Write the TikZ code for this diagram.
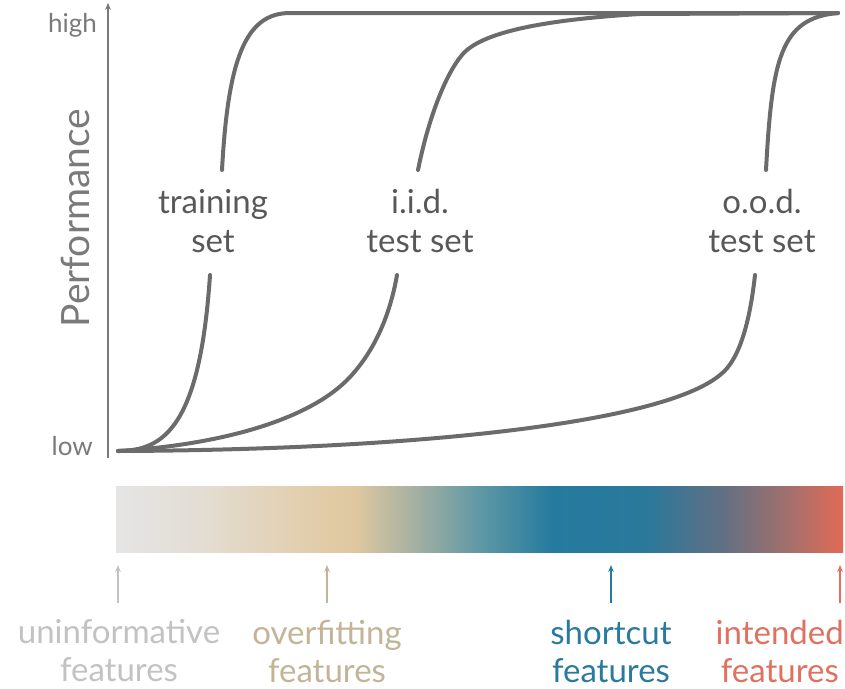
\documentclass[tikz,border=0pt]{standalone}
\usepackage{fontspec}
\setmainfont{Lato}
\usetikzlibrary{arrows.meta}
\definecolor{curvegray}{HTML}{6B6B6B}
\definecolor{labgray}{HTML}{585858}
\definecolor{axgray}{HTML}{7A7A7A}
\definecolor{cA}{HTML}{E5E5E5}
\definecolor{cB}{HTML}{E3DDD3}
\definecolor{cC}{HTML}{E1CBA5}
\definecolor{cD}{HTML}{DFC8A0}
\definecolor{cE}{HTML}{A0AEA2}
\definecolor{cF}{HTML}{5F98A5}
\definecolor{cG}{HTML}{257B9E}
\definecolor{cH}{HTML}{2A799B}
\definecolor{cI}{HTML}{5F7084}
\definecolor{cJ}{HTML}{A4706C}
\definecolor{cK}{HTML}{E26A55}
\definecolor{uninfc}{HTML}{C2C2C2}
\definecolor{overc}{HTML}{C4B497}
\definecolor{shortc}{HTML}{2A7AA0}
\definecolor{intc}{HTML}{E07060}
\pgfdeclarehorizontalshading{featbar}{100bp}{color(0bp)=(cA); color(25bp)=(cA); color(30.8bp)=(cB); color(39.7bp)=(cC); color(41.4bp)=(cD); color(45.9bp)=(cE); color(50bp)=(cF); color(55bp)=(cG); color(61.5bp)=(cH); color(66.5bp)=(cI); color(71.35bp)=(cJ); color(75bp)=(cK); color(100bp)=(cK)}
\tikzset{
  curve/.style={draw=curvegray, line width=4pt, line cap=round},
  axisline/.style={draw=axgray, line width=1.3pt, -{Stealth[length=7pt,width=6pt]}},
  featarrow/.style={line width=1.5pt, -{Stealth[length=7pt,width=5.5pt]}},
  curvelabel/.style={text=labgray, align=center, font=\fontsize{33}{39}\selectfont, inner sep=0pt},
  featlabel/.style={align=center, font=\fontsize{33}{38}\selectfont, inner sep=0pt},
  ticklabel/.style={text=axgray, font=\fontsize{26}{30}\selectfont, inner sep=0pt}
}
\begin{document}
\begin{tikzpicture}[x=1pt,y=-1pt]
\useasboundingbox (0,0) rectangle (845,688);
% axis
\coordinate (axbot) at (108,458);
\coordinate (axtop) at (108,3);
\draw[axisline] (axbot) -- (axtop);
\node[ticklabel, anchor=east] (high) at (97,25) {high};
\node[ticklabel, anchor=east] (low) at (93,446) {low};
\node[text=axgray, rotate=90, font=\fontsize{39}{42}\selectfont, inner sep=0pt] (perf) at (75,218) {Performance};
% labels
\node[curvelabel] (trainlbl) at (213,221) {training\\set};
\node[curvelabel] (iidlbl) at (420,221) {i.i.d.\\test set};
\node[curvelabel] (oodlbl) at (762,221) {o.o.d.\\test set};
% coordinates
\coordinate (origin) at (118,451);
\coordinate (topend) at (838,13);
\coordinate (trlo) at (210,275);
\coordinate (trhi) at (222,170);
\coordinate (iidlo) at (397,275);
\coordinate (iidhi) at (418,170);
\coordinate (oodlo) at (755,275);
\coordinate (oodhi) at (766,170);
% training curve
\draw[curve] (origin) .. controls (165,451) and (200,425) .. (trlo);
\draw[curve] (trhi) .. controls (228,60) and (245,13) .. (290,13) -- (topend);
% iid curve
\draw[curve] (origin) .. controls (220,445) and (310,420) .. (350,377) .. controls (375,350) and (390,315) .. (iidlo);
\draw[curve] (iidhi) .. controls (428,120) and (445,75) .. (462,55) .. controls (480,33) and (540,20) .. (640,14) -- (topend);
% ood curve
\draw[curve] (origin) .. controls (400,450) and (660,425) .. (720,375) .. controls (740,360) and (750,320) .. (oodlo);
\draw[curve] (oodhi) .. controls (772,60) and (780,18) .. (topend);
% gradient bar
\shade[shading=featbar] (116,486) rectangle (843,552);
% feature labels
\node[featlabel, text=uninfc] (uninf) at (119,651) {uninformative\\features};
\node[featlabel, text=overc] (over) at (327,651) {overfitting\\features};
\node[featlabel, text=shortc] (short) at (611,651) {shortcut\\features};
\node[featlabel, text=intc, anchor=east] (intd) at (844,651) {intended\\features};
% feature arrows
\coordinate (a1) at (118,565);
\coordinate (a2) at (327,565);
\coordinate (a3) at (611,565);
\coordinate (a4) at (840,565);
\coordinate (b1) at (118,603);
\coordinate (b2) at (327,603);
\coordinate (b3) at (611,603);
\coordinate (b4) at (840,603);
\draw[featarrow, draw=uninfc, fill=uninfc] (b1) -- (a1);
\draw[featarrow, draw=overc, fill=overc] (b2) -- (a2);
\draw[featarrow, draw=shortc, fill=shortc] (b3) -- (a3);
\draw[featarrow, draw=intc, fill=intc] (b4) -- (a4);
\end{tikzpicture}
\end{document}
